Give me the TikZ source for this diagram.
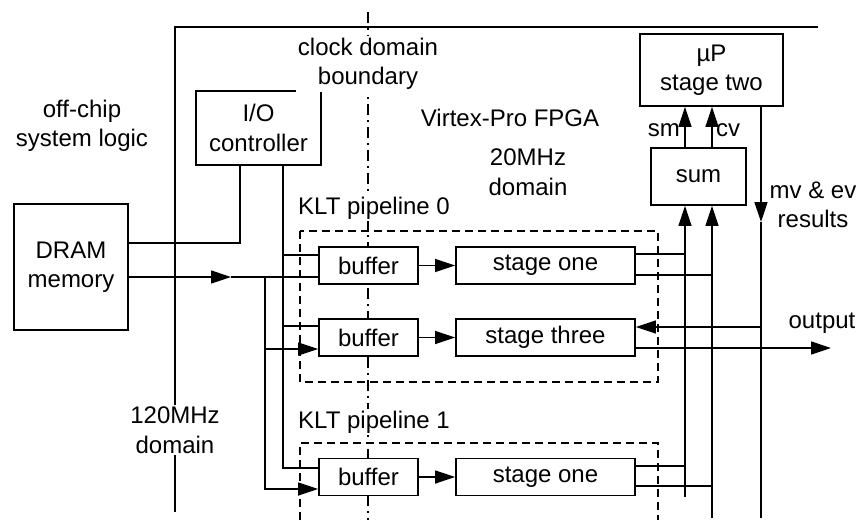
\documentclass[tikz,border=0pt]{standalone}
\usepackage{fontspec}
\setmainfont{Liberation Sans}
\usetikzlibrary{arrows.meta}
\begin{document}
\begin{tikzpicture}[x=1pt,y=-1pt,
  every node/.style={font=\fontsize{24}{29.5}\selectfont, inner sep=0pt},
  blk/.style={draw, line width=1.7pt, fill=white, align=center},
  lbl/.style={align=center, fill=white, inner sep=2pt},
  wire/.style={line width=1.4pt},
  arr/.style={wire, -{Triangle[length=20pt,width=13pt]}},
  pipe/.style={line width=1.5pt, dash pattern=on 8pt off 5pt},
  clk/.style={line width=1.5pt, dash pattern=on 11pt off 5pt on 2pt off 5pt},
  chip/.style={line width=1.9pt}]
\useasboundingbox (0,0) rectangle (859,520);

% frame of the FPGA and the clock domain boundary
\coordinate (chipB) at (175,512);
\coordinate (chipC) at (175,27);
\coordinate (chipR) at (818,27);
\coordinate (clkT) at (368,12);
\coordinate (clkB) at (368,520);
\draw[chip] (chipB) -- (chipC) -- (chipR);
\draw[clk] (clkT) -- (clkB);

% KLT pipeline frames
\coordinate (p0a) at (300,231);
\coordinate (p0b) at (658,382);
\coordinate (p1a) at (300,520);
\coordinate (p1b) at (300,443);
\coordinate (p1c) at (658,443);
\coordinate (p1d) at (658,520);
\draw[pipe] (p0a) rectangle (p0b);
\draw[pipe] (p1a) -- (p1b) -- (p1c) -- (p1d);

% blocks
\node[blk, minimum width=125pt, minimum height=74pt] (io)   at (258.5,128) {I/O\\controller};
\node[blk, minimum width=114pt, minimum height=126pt] (dram) at (71,267) {DRAM\\memory};
\node[blk, minimum width=143pt, minimum height=72pt] (up)   at (711.5,70) {µP\\stage two};
\node[blk, minimum width=95pt, minimum height=57pt] (sum)  at (698.5,176.5) {sum};
\node[blk, minimum width=99pt, minimum height=37pt] (buf0) at (368.5,265.5) {buffer};
\node[blk, minimum width=99pt, minimum height=37pt] (buf1) at (368.5,337.5) {buffer};
\node[blk, minimum width=99pt, minimum height=37pt] (buf2) at (368.5,477) {buffer};
\node[blk, minimum width=179pt, minimum height=37pt] (st1a) at (545.5,265.5) {stage one};
\node[blk, minimum width=179pt, minimum height=37pt] (st3)  at (545.5,337.5) {stage three};
\node[blk, minimum width=179pt, minimum height=37pt] (st1b) at (545.5,477) {stage one};

% wire levels and rails
\coordinate (yIO) at (0,243);
\coordinate (yD)  at (0,277);
\coordinate (y0a) at (0,255);
\coordinate (y1a) at (0,326);
\coordinate (y1b) at (0,349);
\coordinate (y2a) at (0,468);
\coordinate (y2b) at (0,489);
\coordinate (xIOa) at (240,0);
\coordinate (xIOb) at (283,0);
\coordinate (xD)  at (265,0);
\coordinate (darr) at (231,277);
\coordinate (xsm) at (685,0);
\coordinate (xcv) at (712,0);
\coordinate (xmv) at (761,0);
\coordinate (ys0a) at (0,254);
\coordinate (ys0b) at (0,275);
\coordinate (ys1a) at (0,466);
\coordinate (ys1b) at (0,486);
\coordinate (ysmE) at (0,497);
\coordinate (ycvE) at (0,518);
\coordinate (ymv) at (0,222);
\coordinate (y3in) at (0,327);
\coordinate (y3out) at (0,348);
\coordinate (outE) at (831,348);

% off-chip connections
\draw[wire] (dram.east |- yIO) -| (io.south -| xIOa);
\draw[wire] (io.south -| xIOb) |- (buf2.west |- y2a);
\draw[wire] (xIOb |- y0a) -- (buf0.west |- y0a);
\draw[wire] (xIOb |- y1a) -- (buf1.west |- y1a);
\draw[arr] (dram.east |- yD) -- (darr);
\draw[wire] (darr) -- (buf0.west |- yD);
\draw[arr] (xD |- yD) |- (buf2.west |- y2b);
\draw[arr] (xD |- y1b) -- (buf1.west |- y1b);

% pipelines
\draw[arr] (buf0) -- (st1a);
\draw[arr] (buf1) -- (st3);
\draw[arr] (buf2) -- (st1b);
\draw[wire] (st1a.east |- ys0a) -- (xsm |- ys0a);
\draw[wire] (st1a.east |- ys0b) -- (xcv |- ys0b);
\draw[wire] (st1b.east |- ys1a) -- (xsm |- ys1a);
\draw[wire] (st1b.east |- ys1b) -- (xcv |- ys1b);
\draw[arr] (xsm |- ysmE) -- (sum.south -| xsm);
\draw[arr] (xcv |- ycvE) -- (sum.south -| xcv);
\draw[arr] (sum.north -| xsm) -- (up.south -| xsm);
\draw[arr] (sum.north -| xcv) -- (up.south -| xcv);
\draw[arr] (up.south -| xmv) -- (xmv |- ymv);
\draw[wire] (xmv |- ymv) -- (xmv |- ycvE);
\draw[arr] (xmv |- y3in) -- (st3.east |- y3in);
\draw[arr] (st3.east |- y3out) -- (outE);

% labels
\node[lbl] (offchip) at (82,126) {off-chip\\system logic};
\node[lbl] (clkl) at (368,64) {clock domain\\boundary};
\node[lbl] (fpga) at (510,118) {Virtex-Pro FPGA};
\node[lbl] (d20) at (528,172) {20MHz\\domain};
\node[lbl, anchor=west] (klt0) at (296,208) {KLT pipeline 0};
\node[lbl, anchor=west] (klt1) at (296,422) {KLT pipeline 1};
\node[lbl] (d120) at (175,430) {120MHz\\domain};
\node[anchor=east] (sml) at (680,130) {sm};
\node[anchor=west] (cvl) at (716,130) {cv};
\node[align=center] (mvl) at (813,205) {mv \& ev\\results};
\node (outl) at (822,323) {output};
\end{tikzpicture}
\end{document}
